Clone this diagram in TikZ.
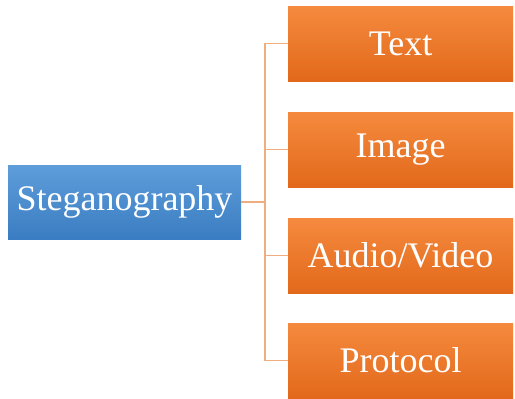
\documentclass[tikz,border=0pt]{standalone}
\usepackage{fontspec}
\setmainfont{Liberation Serif}
\usetikzlibrary{positioning}
\definecolor{blueTop}{HTML}{5E9DDA}
\definecolor{blueBot}{HTML}{3B7DC2}
\definecolor{orangeTop}{HTML}{F58A3E}
\definecolor{orangeBot}{HTML}{E2691B}
\definecolor{linkOrange}{HTML}{EFAD80}

\begin{document}
\begin{tikzpicture}[x=1pt,y=1pt]
    \tikzstyle{every node}+=[inner sep=0pt]
    \tikzstyle{root}=[rectangle, minimum width=233pt, minimum height=74pt,
        top color=blueTop, bottom color=blueBot, text=white,
        font=\fontsize{36}{40}\selectfont]
    \tikzstyle{leaf}=[rectangle, minimum width=225pt, minimum height=75pt,
        top color=orangeTop, bottom color=orangeBot, text=white,
        font=\fontsize{36}{40}\selectfont]
    \tikzstyle{link}=[draw=linkOrange, line width=1.2pt]
    \useasboundingbox (0,0) rectangle (515,-399);
    \node [root] (steg) at (124.5,-202) {Steganography};
    \node [leaf] (text) at (400.5,-43.5) {Text};
    \node [leaf] (image) at (400.5,-149.5) {Image};
    \node [leaf] (av) at (400.5,-255.5) {Audio/Video};
    \node [leaf] (proto) at (400.5,-360.5) {Protocol};
    \coordinate (fork) at (265,-202);
    \draw [link] (steg.east) -- (fork);
    \draw [link] (fork) |- (text.west);
    \draw [link] (fork) |- (image.west);
    \draw [link] (fork) |- (av.west);
    \draw [link] (fork) |- (proto.west);
\end{tikzpicture}
\end{document}
